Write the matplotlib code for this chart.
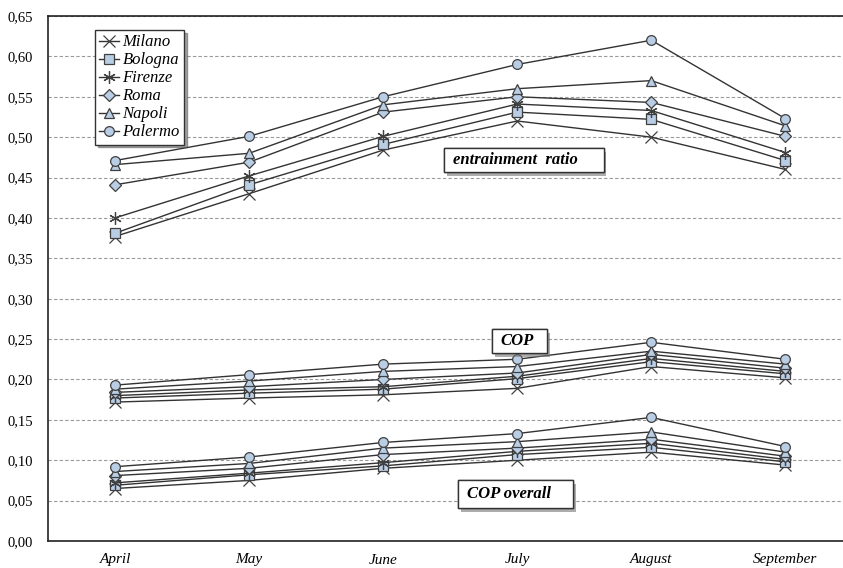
import matplotlib
matplotlib.use("Agg")
import matplotlib.pyplot as plt
import matplotlib.patheffects as pe
from matplotlib.patches import Rectangle
from matplotlib.ticker import FuncFormatter

plt.rcParams['font.family'] = ['Liberation Serif', 'DejaVu Serif']

months = ['April', 'May', 'June', 'July', 'August', 'September']
cities = ['Milano', 'Bologna', 'Firenze', 'Roma', 'Napoli', 'Palermo']

# entrainment ratio
er_milano = [0.377, 0.430, 0.484, 0.520, 0.500, 0.460]
er_bologna = [0.381, 0.441, 0.491, 0.531, 0.522, 0.471]
er_firenze = [0.400, 0.452, 0.501, 0.541, 0.533, 0.481]
er_roma = [0.441, 0.469, 0.531, 0.550, 0.543, 0.501]
er_napoli = [0.466, 0.480, 0.540, 0.560, 0.570, 0.514]
er_palermo = [0.471, 0.501, 0.550, 0.590, 0.620, 0.523]

# COP
cop_milano = [0.172, 0.177, 0.181, 0.189, 0.216, 0.202]
cop_bologna = [0.177, 0.183, 0.188, 0.201, 0.222, 0.207]
cop_firenze = [0.180, 0.187, 0.191, 0.204, 0.226, 0.210]
cop_roma = [0.184, 0.191, 0.200, 0.208, 0.231, 0.214]
cop_napoli = [0.188, 0.198, 0.210, 0.216, 0.235, 0.219]
cop_palermo = [0.193, 0.206, 0.219, 0.225, 0.246, 0.225]

# COP overall
copo_milano = [0.065, 0.075, 0.090, 0.100, 0.110, 0.094]
copo_bologna = [0.069, 0.082, 0.093, 0.107, 0.116, 0.098]
copo_firenze = [0.072, 0.084, 0.097, 0.111, 0.121, 0.101]
copo_roma = [0.081, 0.090, 0.107, 0.115, 0.126, 0.105]
copo_napoli = [0.086, 0.096, 0.115, 0.123, 0.135, 0.110]
copo_palermo = [0.092, 0.104, 0.122, 0.133, 0.153, 0.117]

groups = [
    [er_milano, er_bologna, er_firenze, er_roma, er_napoli, er_palermo],
    [cop_milano, cop_bologna, cop_firenze, cop_roma, cop_napoli, cop_palermo],
    [copo_milano, copo_bologna, copo_firenze, copo_roma, copo_napoli, copo_palermo],
]

markers = ['x', 's', (6, 2, 0), 'D', '^', 'o']
sizes = [8, 7, 9, 6, 7, 7]
fill = '#b9cde5'
edge = '#404040'

W, H = 843, 568
fig = plt.figure(figsize=(W / 100, H / 100), dpi=100)
ax = fig.add_axes([48 / W, 1 - 541 / H, (W - 48) / W, (541 - 16) / H])

x = list(range(len(months)))
for g, series in enumerate(groups):
    for i, vals in enumerate(series):
        ax.plot(x, vals, color='#333333', lw=1.0, marker=markers[i],
                ms=sizes[i], mfc=fill, mec=edge, mew=0.9,
                label=cities[i] if g == 0 else None, zorder=3)

ax.set_ylim(0, 0.65)
ax.set_xlim(-0.5, 5.43)
ax.set_yticks([i * 0.05 for i in range(14)])
ax.yaxis.set_major_formatter(FuncFormatter(lambda v, p: ('%.2f' % v).replace('.', ',')))
ax.set_xticks(x)
ax.set_xticklabels(months, fontstyle='italic', fontsize=11)
ax.tick_params(axis='both', length=0)
ax.tick_params(axis='x', pad=9, labelsize=11)
ax.tick_params(axis='y', pad=11, labelsize=10.5)
ax.grid(axis='y', linestyle=(0, (3, 2)), color='#999999', lw=0.8)
ax.set_axisbelow(True)
for s in ['left', 'bottom', 'top']:
    ax.spines[s].set_color('#222222')
    ax.spines[s].set_linewidth(1.2)
ax.spines['right'].set_visible(False)

leg = ax.legend(loc='upper left', bbox_to_anchor=(0.059, 0.973), borderaxespad=0,
                frameon=True, shadow=True, fancybox=False, handlelength=1.2,
                handletextpad=0.2, borderpad=0.25, labelspacing=0.12,
                prop={'style': 'italic', 'size': 12})
leg.get_frame().set_edgecolor('#333333')
leg.get_frame().set_linewidth(1.0)

shadow = [pe.withSimplePatchShadow(offset=(2, -3), shadow_rgbFace='#777777', alpha=0.6),
          pe.Normal()]
# label boxes: (text, box x0, y0, w, h, text x, text y) in axes fraction
boxes = [
    ('entrainment  ratio', 0.498, 0.703, 0.201, 0.046, 0.509, 0.726),
    ('COP', 0.5585, 0.358, 0.069, 0.046, 0.5686, 0.381),
    ('COP overall', 0.5157, 0.063, 0.145, 0.053, 0.527, 0.0895),
]
for txt, bx, by, bw, bh, tx, ty in boxes:
    r = Rectangle((bx, by), bw, bh, transform=ax.transAxes, fc='white',
                  ec='#333333', lw=1.0, zorder=5)
    r.set_path_effects(shadow)
    ax.add_patch(r)
    ax.text(tx, ty, txt, transform=ax.transAxes, fontsize=12, fontweight='bold',
            fontstyle='italic', ha='left', va='center', zorder=6)

fig.savefig('out.png', dpi=100)
